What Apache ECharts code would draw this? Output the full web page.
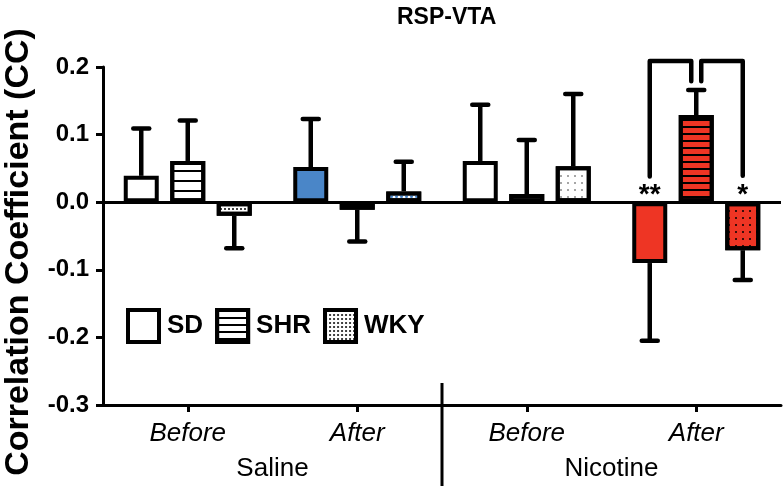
<!DOCTYPE html>
<html><head><meta charset="utf-8">
<script src="https://cdn.jsdelivr.net/npm/echarts@6/dist/echarts.min.js"></script>
<style>html,body{margin:0;padding:0;background:#fff}#c{width:784px;height:486px}</style>
</head><body><div id="c"></div>
<script>
// ---------- data ----------
const conditions = ['Before', 'After', 'Before', 'After'];
const treatments = ['Saline', 'Nicotine'];
const strains = ['SD', 'SHR', 'WKY'];
const sdMean  = [0.039, 0.052, 0.061, -0.090];
const sdErr   = [0.070, 0.071, 0.083, 0.115];
const shrMean = [0.061, -0.011, 0.012, 0.129];
const shrErr  = [0.060, 0.047, 0.080, 0.037];
const wkyMean = [-0.020, 0.016, 0.053, -0.071];
const wkyErr  = [0.048, 0.044, 0.107, 0.044];
const yTicks = [-0.3, -0.2, -0.1, 0.0, 0.1, 0.2];
// significance brackets: [category, fromStrain, toStrain, topY, fromEndY, toEndY]
const sigBrackets = [[3, 0, 1, 0.209, 0.038, 0.179], [3, 1, 2, 0.209, 0.179, 0.039]];
const starCats = [3, 3];
const starStrains = [0, 2];
const starText = ['**', '*'];

// ---------- styles ----------
const FONT = '"Liberation Sans", Arial, Helvetica, sans-serif';
const BLUE = '#4a86c8', RED = '#ee3524';
const BAR_W = 35, SPACING = 46.5, BAR_GAP = (SPACING - BAR_W) / BAR_W;
const stripe = (gap) => ({symbol: 'rect', symbolSize: 1, color: '#000', dashArrayX: [1, 0], dashArrayY: [2, gap], rotation: 0});
const dots = (color, d, gap) => ({symbol: 'circle', symbolSize: 1, color: color, dashArrayX: [d, gap], dashArrayY: [d, gap], rotation: 0});
const fills = {
  SD:  ['#fff', BLUE, '#fff', RED],
  SHR: ['#fff', BLUE, '#fff', RED],
  WKY: ['#fff', '#fff', '#fff', RED]
};
const decals = {
  SD:  [null, null, null, null],
  SHR: [stripe(7.5), stripe(4.5), stripe(4.5), stripe(4.7)],
  WKY: [dots('#000', 2, 1.5), dots(BLUE, 2.5, 1.2), dots('#888', 1.5, 5), dots('#000', 2, 4.5)]
};
const seriesDecal = {SD: null, SHR: stripe(4.5), WKY: dots('#000', 1.5, 1.5)};
const means = {SD: sdMean, SHR: shrMean, WKY: wkyMean};
const errs = {SD: sdErr, SHR: shrErr, WKY: wkyErr};

const chart = echarts.init(document.getElementById('c'), null, {renderer: 'canvas'});

function barSeries(name, si) {
  const s = {
    name: name, type: 'bar', xAxisIndex: 0, yAxisIndex: 0,
    barWidth: BAR_W, barGap: (BAR_GAP * 100) + '%', z: 3,
    itemStyle: {color: '#fff', borderColor: '#000', borderWidth: 4},
    data: means[name].map((v, i) => {
      const st = {color: fills[name][i], borderColor: '#000', borderWidth: 4};
      if (decals[name][i]) st.decal = decals[name][i];
      return {value: v, itemStyle: st};
    })
  };
  if (seriesDecal[name]) s.itemStyle.decal = seriesDecal[name];
  if (si === 0) {
    s.markLine = {silent: true, symbol: ['none', 'none'], label: {show: false},
      lineStyle: {color: '#000', width: 3, type: 'solid'}, data: [{yAxis: 0}], z: 2, animation: false};
  }
  return s;
}

function errSeries(name, si) {
  return {
    name: name + '-err', type: 'custom', coordinateSystem: 'cartesian2d', z: 1, silent: true, clip: false,
    data: means[name].map((v, i) => [i, v, errs[name][i], si]),
    encode: {x: 0, y: 1},
    renderItem: function (params, api) {
      const ci = api.value(0), m = api.value(1), e = api.value(2), s = api.value(3);
      const x = api.coord([ci, 0])[0] + (s - 1) * SPACING;
      const y0 = api.coord([ci, m])[1];
      const y1 = api.coord([ci, m + (m >= 0 ? e : -e)])[1];
      return {type: 'group', children: [
        {type: 'line', shape: {x1: x, y1: y0, x2: x, y2: y1}, style: {stroke: '#000', lineWidth: 4.5}},
        {type: 'line', shape: {x1: x - 8, y1: y1, x2: x + 8, y2: y1}, style: {stroke: '#000', lineWidth: 4.5, lineCap: 'round'}}
      ]};
    }
  };
}

const series = [];
strains.forEach((n, i) => series.push(barSeries(n, i)));
strains.forEach((n, i) => series.push(errSeries(n, i)));

series.push({
  name: 'brackets', type: 'custom', coordinateSystem: 'cartesian2d', z: 4, silent: true, clip: false,
  data: sigBrackets, encode: {x: 0, y: 3},
  renderItem: function (params, api) {
    const ci = api.value(0), f = api.value(1), t = api.value(2);
    const cx = api.coord([ci, 0])[0];
    const xl = cx + (f - 1) * SPACING + (f === 1 ? 5 : 0);
    const xr = cx + (t - 1) * SPACING - (t === 1 ? 5 : 0);
    const yt = api.coord([ci, api.value(3)])[1];
    const yl = api.coord([ci, api.value(4)])[1];
    const yr = api.coord([ci, api.value(5)])[1];
    return {type: 'polyline', shape: {points: [[xl, yl], [xl, yt], [xr, yt], [xr, yr]]},
      style: {stroke: '#000', lineWidth: 4.5, fill: null, lineJoin: 'round', lineCap: 'round'}};
  }
});

series.push({
  name: 'stars', type: 'custom', coordinateSystem: 'cartesian2d', z: 4, silent: true, clip: false,
  data: starCats.map((c, i) => [c, 0, starStrains[i], i]), encode: {x: 0, y: 1},
  renderItem: function (params, api) {
    const ci = api.value(0), s = api.value(2), k = api.value(3);
    const p = api.coord([ci, 0]);
    return {type: 'text', style: {text: starText[k], x: p[0] + (s - 1) * SPACING, y: p[1] - 7,
      align: 'center', verticalAlign: 'middle', font: 'bold 28px ' + FONT, fill: '#000'}};
  }
});

series.push({
  name: 'separator', type: 'custom', coordinateSystem: 'cartesian2d', z: 4, silent: true, clip: false,
  data: [[1, -0.3]], encode: {x: 0, y: 1},
  renderItem: function (params, api) {
    const x = (api.coord([1, 0])[0] + api.coord([2, 0])[0]) / 2;
    const yb = api.coord([1, -0.3])[1];
    return {type: 'line', shape: {x1: x, y1: yb - 22, x2: x, y2: yb + 90}, style: {stroke: '#000', lineWidth: 3}};
  }
});

chart.setOption({
  animation: false,
  backgroundColor: '#fff',
  title: {text: 'RSP-VTA', left: 392, top: 1, textStyle: {fontFamily: FONT, fontWeight: 'bold', fontSize: 23, color: '#000'}},
  legend: {
    data: strains, left: 126, top: 308, orient: 'horizontal', padding: 0,
    icon: 'rect', itemWidth: 31, itemHeight: 32, itemGap: 12,
    itemStyle: {borderColor: '#000', borderWidth: 4},
    textStyle: {fontFamily: FONT, fontWeight: 'bold', fontSize: 26, color: '#000', padding: [0, 0, 0, 3]},
    selectedMode: false
  },
  grid: {left: 103, right: 3, top: 67, bottom: 81, containLabel: false, outerBoundsMode: 'none'},
  xAxis: [
    {type: 'category', data: conditions, position: 'bottom', boundaryGap: true,
     axisLine: {onZero: false, lineStyle: {color: '#000', width: 3}},
     axisTick: {show: true, alignWithLabel: true, length: 7, lineStyle: {color: '#000', width: 3}},
     axisLabel: {fontFamily: FONT, fontStyle: 'italic', fontSize: 26, color: '#000', margin: 16},
     splitLine: {show: false}},
    {type: 'category', data: treatments, position: 'bottom', offset: 37, boundaryGap: true,
     axisLine: {show: false}, axisTick: {show: false},
     axisLabel: {fontFamily: FONT, fontSize: 26, color: '#000', margin: 14},
     splitLine: {show: false}}
  ],
  yAxis: {
    type: 'value', min: yTicks[0], max: yTicks[yTicks.length - 1], interval: 0.1,
    name: 'Correlation Coefficient (CC)', nameLocation: 'middle', nameGap: 67,
    nameTextStyle: {fontFamily: FONT, fontWeight: 'bold', fontSize: 34, color: '#000', padding: [0, 32, 0, 0]},
    axisLine: {show: true, lineStyle: {color: '#000', width: 3}},
    axisTick: {show: true, length: 7, lineStyle: {color: '#000', width: 3}},
    axisLabel: {fontFamily: FONT, fontWeight: 'bold', fontSize: 24, color: '#000', margin: 14,
      formatter: v => (Math.abs(v) < 1e-9 ? 0 : v).toFixed(1)},
    splitLine: {show: false}
  },
  series: series
});
</script></body></html>
